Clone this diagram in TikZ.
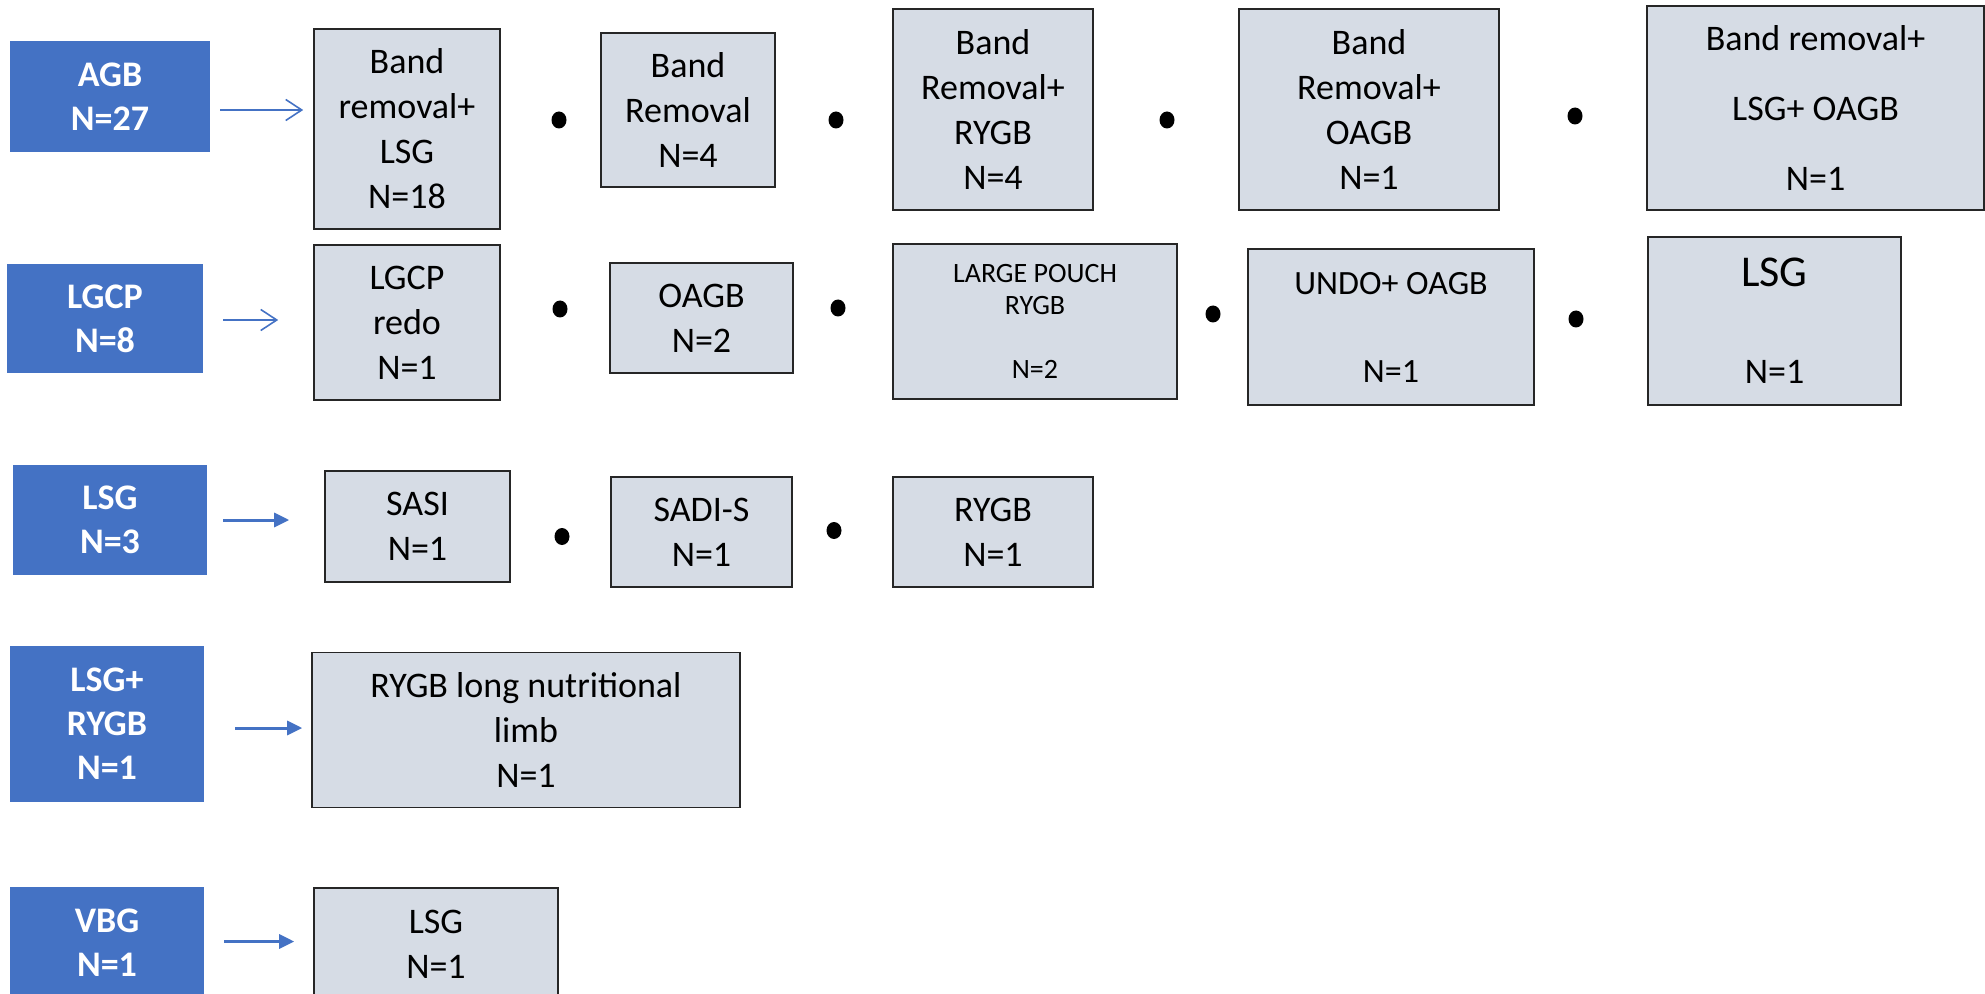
\documentclass[tikz,border=0pt]{standalone}
\usepackage{fontspec}
\setmainfont{Carlito}
\usetikzlibrary{arrows.meta,calc,shapes.geometric}
\definecolor{cblue}{HTML}{4472C4}
\definecolor{cgray}{HTML}{D6DCE5}
\definecolor{cedge}{HTML}{262626}
\begin{document}
\begin{tikzpicture}[x=0.5pt,y=-0.5pt,
  grp/.style={fill=cblue,text=white,align=center,inner sep=0pt,
    font=\bfseries\fontsize{18}{22}\selectfont},
  opt/.style={fill=cgray,draw=cedge,line width=0.8pt,align=center,inner sep=0pt,
    font=\fontsize{18}{22.5}\selectfont},
  dot/.style={ellipse,fill=black,inner sep=0pt,minimum width=7.5pt,minimum height=8.5pt},
  thinarr/.style={draw=cblue,line width=0.8pt,-{Straight Barb[length=8pt,width=10.5pt]}},
  thickarr/.style={draw=cblue,line width=1.5pt,-{Triangle[length=7.5pt,width=7pt]}}]
\useasboundingbox (0,0) rectangle (1985,994);
% row 1
\node[grp,minimum width=100pt,minimum height=55.5pt] (agb) at (110,96.5) {AGB\\N=27};
\node[opt,minimum width=93pt,minimum height=100pt] (b11) at (407,129) {Band\\removal+\\LSG\\N=18};
\node[opt,minimum width=87pt,minimum height=77pt] (b12) at (688,110) {Band\\Removal\\N=4};
\node[opt,minimum width=100pt,minimum height=100.5pt] (b13) at (993,109.5) {Band\\Removal+\\RYGB\\N=4};
\node[opt,minimum width=130pt,minimum height=100.5pt] (b14) at (1369,109.5) {Band\\Removal+\\OAGB\\N=1};
\node[opt,minimum width=168.5pt,minimum height=102pt] (b15) at (1815.5,108) {Band removal+\\[12.5pt]LSG+ OAGB\\[12.5pt]N=1};
\node[dot] (d11) at (559,120) {};
\node[dot] (d12) at (836,120) {};
\node[dot] (d13) at (1167,120) {};
\node[dot] (d14) at (1575,116) {};
\draw[thinarr] ($(agb.east)+(10,13.5)$) -- ($(b11.west)+(-10,-19)$);
% row 2
\node[grp,minimum width=98pt,minimum height=54.5pt] (lgcp) at (105,318.5) {LGCP\\N=8};
\node[opt,minimum width=93pt,minimum height=77.5pt] (b21) at (407,322.5) {LGCP\\redo\\N=1};
\node[opt,minimum width=91.5pt,minimum height=55pt] (b22) at (701.5,318) {OAGB\\N=2};
\node[opt,minimum width=142pt,minimum height=77.5pt,font=\fontsize{14}{16}\selectfont] (b23) at (1035,321.5) {LARGE POUCH\\RYGB\\[16pt]N=2};
\node[opt,minimum width=143pt,minimum height=78pt,font=\fontsize{17}{22}\selectfont] (b24) at (1391,327) {UNDO+ OAGB\\[22pt]N=1};
\node[opt,minimum width=126.5pt,minimum height=84pt] (b25) at (1774.5,321) {{\fontsize{22}{26}\selectfont LSG}\\[26pt]N=1};
\node[dot] (d21) at (560,309) {};
\node[dot] (d22) at (838,308) {};
\node[dot] (d23) at (1213,314) {};
\node[dot] (d24) at (1576,319) {};
\draw[thinarr] ($(lgcp.east)+(20,1.5)$) -- ($(b21.west)+(-35,-2.5)$);
% row 3
\node[grp,minimum width=97pt,minimum height=55pt] (lsg) at (110,520) {LSG\\N=3};
\node[opt,minimum width=92.5pt,minimum height=55.5pt] (b31) at (417.5,526.5) {SASI\\N=1};
\node[opt,minimum width=90.5pt,minimum height=55pt] (b32) at (701.5,532) {SADI-S\\N=1};
\node[opt,minimum width=100pt,minimum height=55pt] (b33) at (993,532) {RYGB\\N=1};
\node[dot] (d31) at (562,536.5) {};
\node[dot] (d32) at (834,530.5) {};
\draw[thickarr] ($(lsg.east)+(16,0)$) -- ($(b31.west)+(-35,-6.5)$);
% row 4
\node[grp,minimum width=97pt,minimum height=78pt] (lsgrygb) at (107,724) {LSG+\\RYGB\\N=1};
\node[opt,minimum width=214pt,minimum height=77.5pt] (b41) at (526,730) {RYGB long nutritional\\limb\\N=1};
\draw[thickarr] ($(lsgrygb.east)+(31,4)$) -- ($(b41.west)+(-9,-2)$);
% row 5
\node[grp,minimum width=97pt,minimum height=56pt] (vbg) at (107,943) {VBG\\N=1};
\node[opt,minimum width=122pt,minimum height=56pt] (b51) at (436,944) {LSG\\N=1};
\draw[thickarr] ($(vbg.east)+(20,-1.5)$) -- ($(b51.west)+(-19,-2.5)$);
\end{tikzpicture}
\end{document}
